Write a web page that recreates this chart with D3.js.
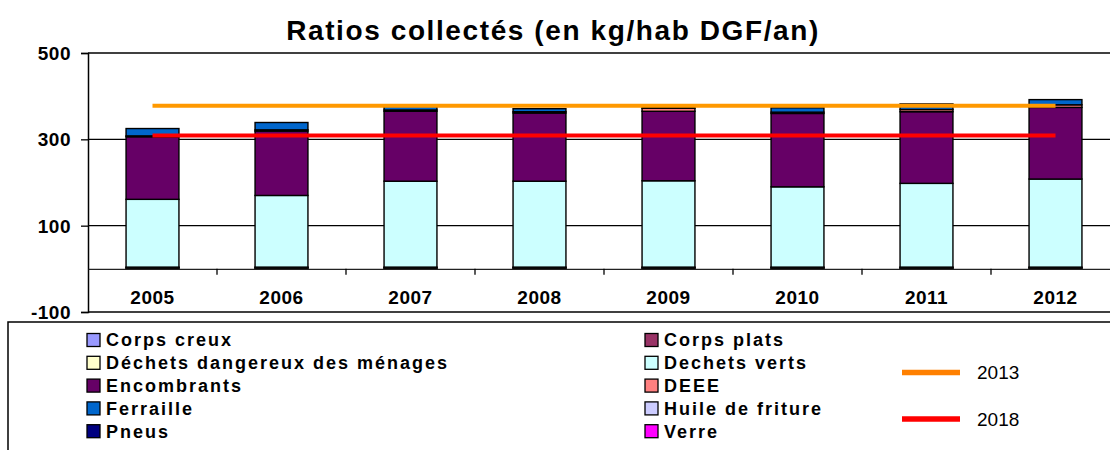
<!DOCTYPE html>
<html>
<head>
<meta charset="utf-8">
<script src="https://cdn.jsdelivr.net/npm/d3@7/dist/d3.min.js"></script>
<style>
  html, body { margin: 0; padding: 0; background: #fff; }
  svg { display: block; font-family: "Liberation Sans", Arial, sans-serif; }
</style>
</head>
<body>
<svg id="chart" width="1110" height="450"></svg>
<script>
// ---- Data ----
const years = ["2005", "2006", "2007", "2008", "2009", "2010", "2011", "2012"];
const seriesNames = ["Corps creux", "Corps plats", "Déchets dangereux des ménages", "Dechets verts",
  "Encombrants", "DEEE", "Ferraille", "Huile de friture", "Pneus", "Verre"];
const corpsCreux      = [1, 1, 1, 1, 1, 1, 1, 1];
const corpsPlats      = [2, 2, 2, 2, 2, 2, 2, 2];
const dechetsDangereux= [1, 1, 1, 1, 1, 1, 1, 1];
const dechetsVerts    = [157, 166, 199, 199, 200, 186, 194, 204];
const encombrants     = [145, 149, 162, 158, 161, 170, 166, 166];
const deee            = [2, 3, 3, 3, 7, 3, 5, 6];
const ferraille       = [17, 17, 11, 7, 3, 10, 13, 12];
const huileFriture    = [0, 0, 0, 0, 0, 0, 0, 0];
const pneus           = [0, 0, 0, 0, 0, 0, 0, 0];
const verre           = [0, 0, 0, 0, 0, 0, 0, 0];
const objectif2013    = [378, 378, 378, 378, 378, 378, 378, 378];
const objectif2018    = [309, 309, 309, 309, 309, 309, 309, 309];
const yTicks = [-100, 100, 300, 500];
const title = "Ratios collectés (en kg/hab DGF/an)";

const seriesValues = [corpsCreux, corpsPlats, dechetsDangereux, dechetsVerts, encombrants,
  deee, ferraille, huileFriture, pneus, verre];
const seriesColors = ["#9999FF", "#993366", "#FFFFCC", "#CCFFFF", "#660066",
  "#FF8080", "#0066CC", "#CCCCFF", "#000080", "#FF00FF"];
const lineSeries = [
  { name: "2013", values: objectif2013, color: "#FF9900", legendColor: "#FF8000" },
  { name: "2018", values: objectif2018, color: "#FF0000", legendColor: "#FF0000" }
];

// ---- Setup ----
const svg = d3.select("#chart");
const x = d3.scaleBand().domain(years).range([88, 1120]).padding(0);
const y = d3.scaleLinear().domain([-100, 500]).range([312, 53]);
const barW = x.bandwidth() * 0.41;

// Title
svg.append("text")
  .attr("x", 553).attr("y", 40)
  .attr("text-anchor", "middle")
  .attr("font-size", 28).attr("font-weight", "bold").attr("letter-spacing", 1.6)
  .text(title);

// Gridlines
svg.append("g").selectAll("line").data(yTicks).join("line")
  .attr("x1", 88).attr("x2", 1120)
  .attr("y1", d => y(d)).attr("y2", d => y(d))
  .attr("stroke", "#000").attr("stroke-width", 1.3);

// Y axis
const yAxis = d3.axisLeft(y).tickValues(yTicks).tickFormat(d => String(d)).tickSize(7).tickPadding(10);
const gy = svg.append("g").attr("transform", "translate(88,0)").call(yAxis);
gy.select(".domain").attr("stroke", "#000").attr("stroke-width", 1.5);
gy.selectAll(".tick line").attr("stroke", "#000").attr("stroke-width", 1.3);
gy.selectAll(".tick text").attr("font-size", 19).attr("font-weight", "bold")
  .attr("font-family", "Liberation Sans, Arial, sans-serif").attr("fill", "#000")
  .attr("letter-spacing", 0.5).attr("dy", "0.35em");

// Stacked bars
const table = years.map((yr, i) => {
  const row = { year: yr };
  seriesNames.forEach((s, k) => row[s] = seriesValues[k][i]);
  return row;
});
const stack = d3.stack().keys(seriesNames)(table);
const gBars = svg.append("g");
stack.forEach((layer, k) => {
  gBars.append("g").selectAll("rect").data(layer).join("rect")
    .filter(d => d[1] - d[0] > 0)
    .attr("x", d => x(d.data.year) + (x.bandwidth() - barW) / 2)
    .attr("width", barW)
    .attr("y", d => y(d[1]))
    .attr("height", d => y(d[0]) - y(d[1]))
    .attr("fill", seriesColors[k])
    .attr("stroke", "#000").attr("stroke-width", 1.4);
});

// X axis at zero
const xAxis = d3.axisBottom(x).tickSize(0).tickPadding(22);
const gx = svg.append("g").attr("transform", `translate(0,${y(0)})`).call(xAxis);
gx.select(".domain").attr("stroke", "#222").attr("stroke-width", 1.3);
gx.selectAll(".tick text").attr("font-size", 19).attr("font-weight", "bold")
  .attr("font-family", "Liberation Sans, Arial, sans-serif").attr("fill", "#000")
  .attr("letter-spacing", 0.5);
// category separator ticks
svg.append("g").selectAll("line").data(years.slice(1)).join("line")
  .attr("x1", d => x(d)).attr("x2", d => x(d))
  .attr("y1", y(0)).attr("y2", y(0) + 6)
  .attr("stroke", "#000").attr("stroke-width", 1.3);

// Target lines
const line = d3.line()
  .x((d, i) => x(years[i]) + x.bandwidth() / 2)
  .y(d => y(d));
lineSeries.forEach(s => {
  svg.append("path").datum(s.values)
    .attr("d", line)
    .attr("fill", "none")
    .attr("stroke", s.color).attr("stroke-width", 4);
});

// Legend box
svg.append("rect")
  .attr("x", 8).attr("y", 322).attr("width", 1120).attr("height", 200)
  .attr("fill", "#fff").attr("stroke", "#000").attr("stroke-width", 1.5);

const legend = svg.append("g");
seriesNames.forEach((name, k) => {
  const col = k % 2, row = Math.floor(k / 2);
  const lx = col === 0 ? 87 : 645;
  const ly = 340 + row * 22.8;
  legend.append("rect")
    .attr("x", lx).attr("y", ly - 6.5).attr("width", 13).attr("height", 13)
    .attr("fill", seriesColors[k]).attr("stroke", "#000").attr("stroke-width", 1.3);
  legend.append("text")
    .attr("x", lx + 19).attr("y", ly).attr("dy", "0.36em")
    .attr("font-size", 18).attr("font-weight", "bold").attr("letter-spacing", 2)
    .text(name);
});
lineSeries.forEach((s, i) => {
  const ly = 372.5 + i * 46.5;
  legend.append("line")
    .attr("x1", 902).attr("x2", 960).attr("y1", ly).attr("y2", ly)
    .attr("stroke", s.legendColor).attr("stroke-width", 5.5);
  legend.append("text")
    .attr("x", 977).attr("y", ly).attr("dy", "0.36em")
    .attr("font-size", 19)
    .text(s.name);
});
</script>
</body>
</html>
